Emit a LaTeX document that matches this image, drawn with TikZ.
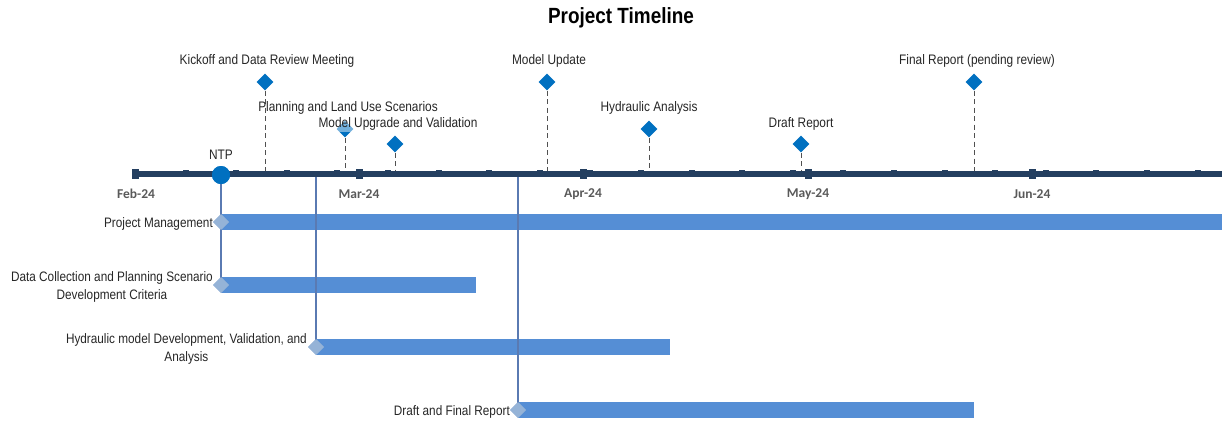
\documentclass[tikz,border=0pt]{standalone}
\usepackage{fontspec}
\setmainfont{Liberation Sans}[FakeStretch=0.86]
\newfontfamily\monthfont{Carlito}
\usetikzlibrary{shapes.geometric}
\definecolor{axisnavy}{HTML}{243F60}
\definecolor{msblue}{HTML}{0070C0}
\definecolor{barblue}{HTML}{558ED5}
\definecolor{startdiacol}{HTML}{95B3D7}
\definecolor{linkblue}{HTML}{5A7AB2}
\definecolor{monthgray}{HTML}{595959}
\definecolor{dashgray}{HTML}{505050}
\definecolor{labeltext}{HTML}{262626}
\begin{document}
\begin{tikzpicture}[x=1pt,y=-1pt,
  milestone/.style={diamond, fill=msblue, inner sep=0pt, minimum width=17pt, minimum height=17pt},
  startdia/.style={diamond, fill=startdiacol, inner sep=0pt, minimum width=16pt, minimum height=16pt},
  mslabel/.style={font=\fontsize{13.8}{15}\selectfont, text=labeltext, inner sep=0pt},
  ganttlabel/.style={font=\fontsize{13.7}{17.5}\selectfont, text=labeltext, align=center, anchor=east, inner sep=0pt},
  bar/.style={fill=barblue, draw=none, inner sep=0pt, minimum height=16pt, anchor=west},
  monthlabel/.style={font=\monthfont\bfseries\fontsize{13.5}{15}\selectfont, text=monthgray, inner sep=0pt},
  msdash/.style={draw=dashgray, line width=1pt, dash pattern=on 5pt off 3.5pt},
  linkline/.style={draw=linkblue, line width=1.2pt}
]
\useasboundingbox (0,0) rectangle (1222,421);

% title
\node[font=\bfseries\fontsize{22}{24}\selectfont, inner sep=0pt] (title) at (621,18) {Project Timeline};

% gantt bars
\node[bar, minimum width=1001pt] (pmbar) at (221,222) {};
\node[bar, minimum width=255pt] (dcbar) at (221,285) {};
\node[bar, minimum width=354pt] (hmbar) at (316,347) {};
\node[bar, minimum width=456pt] (drbar) at (518,410) {};

% axis
\coordinate (axL) at (133,174);
\coordinate (axR) at (1222,174);
\draw[axisnavy, line width=6pt] (axL) -- (axR);
\foreach \k in {0,...,21}{
  \fill[axisnavy] ({135+50.6*\k-3},170) rectangle ({135+50.6*\k+3},176);
}
\foreach \mx in {135,359,583,808,1032}{
  \fill[axisnavy] (\mx-3.5,169) rectangle (\mx+3.5,179);
}

% month labels
\node[monthlabel] (feb) at (136,194) {Feb-24};
\node[monthlabel] (mar) at (359,194) {Mar-24};
\node[monthlabel] (apr) at (583,194) {Apr-24};
\node[monthlabel] (may) at (808,194) {May-24};
\node[monthlabel] (jun) at (1032,194) {Jun-24};

% axis anchor coordinates
\coordinate (a316) at (316,177);
\coordinate (a518) at (518,177);

% start diamonds and NTP
\node[startdia] (pmstart) at (221,222) {};
\node[startdia] (dcstart) at (221,285) {};
\node[startdia] (hmstart) at (316,347) {};
\node[startdia] (drstart) at (518,410) {};
\node[circle, fill=msblue, inner sep=0pt, minimum size=18pt] (ntp) at (221,175) {};

% connector lines to bars
\draw[linkline] (ntp.center) -- (dcstart.center);
\draw[linkline] (a316) -- (hmstart.center);
\draw[linkline] (a518) -- (drstart.center);
\node[startdia] at (pmstart) {};
\node[startdia] at (dcstart) {};
\node[startdia] at (hmstart) {};
\node[startdia] at (drstart) {};
\node[circle, fill=msblue, inner sep=0pt, minimum size=18pt] at (ntp) {};
\node[mslabel] (ntplabel) at (221,155) {NTP};

% milestones
\node[milestone] (kick) at (265,82) {};
\node[milestone] (plan) at (345,129) {};
\node[milestone] (mupg) at (395,144) {};
\node[milestone] (mupd) at (547,82) {};
\node[milestone] (hyd) at (649,129) {};
\node[milestone] (draft) at (801,144) {};
\node[milestone] (final) at (974,82) {};

\foreach \m/\x in {kick/265,plan/345,mupg/395,mupd/547,hyd/649,draft/801,final/974}{
  \draw[msdash] (\m.south) -- (\x,171);
}

\node[mslabel] (kicklab) at (267,61) {Kickoff and Data Review Meeting};
\node[mslabel] (planlab) at (348,108) {Planning and Land Use Scenarios};
\node[mslabel, fill=white, fill opacity=0.45, text opacity=1, inner ysep=2pt] (mupglab) at (398,124) {Model Upgrade and Validation};
\node[mslabel] (mupdlab) at (549,61) {Model Update};
\node[mslabel] (hydlab) at (649,108) {Hydraulic Analysis};
\node[mslabel] (draftlab) at (801,124) {Draft Report};
\node[mslabel] (finallab) at (977,61) {Final Report (pending review)};

% gantt labels
\node[ganttlabel] (pmlab) at (213,224) {Project Management};
\node[ganttlabel] (dclab) at (213,287) {Data Collection and Planning Scenario\\Development Criteria};
\node[ganttlabel] (hmlab) at (307,349) {Hydraulic model Development, Validation, and\\Analysis};
\node[ganttlabel] (drlab) at (510,412) {Draft and Final Report};
\end{tikzpicture}
\end{document}
